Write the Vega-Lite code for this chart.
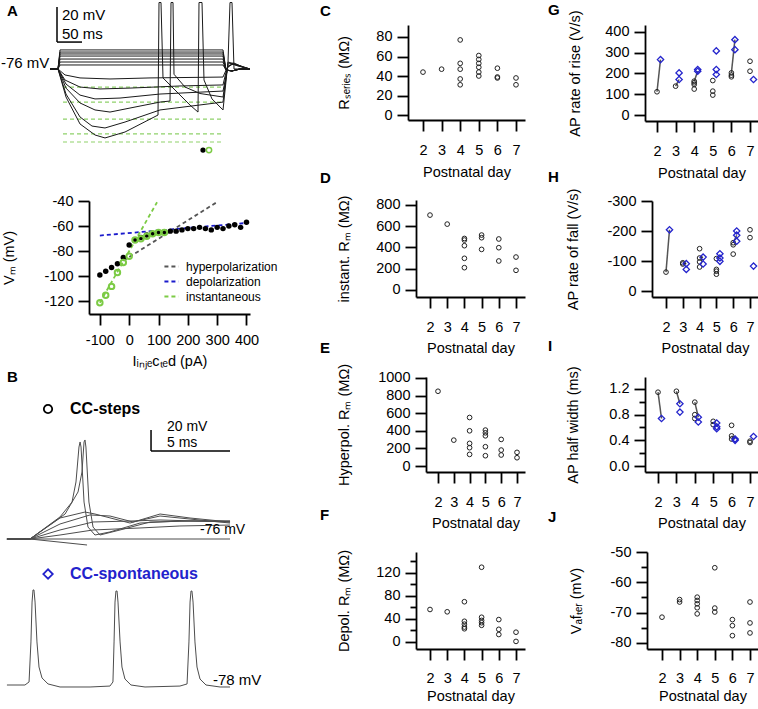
{
  "$schema": "https://vega.github.io/schema/vega-lite/v6.json",
  "padding": 0,
  "columns": 3,
  "align": "none",
  "bounds": "flush",
  "spacing": {"row": 60, "column": 120},
  "resolve": {"scale": {"stroke": "independent"}, "legend": {"stroke": "independent"}},
  "config": {
    "font": "Liberation Sans",
    "view": {"stroke": null},
    "axis": {"domainColor": "#000", "domainWidth": 1.8, "tickColor": "#000", "tickWidth": 1.8, "tickSize": 11, "labelFontSize": 14.5, "titleFontSize": 14.5, "titleFontWeight": "normal", "labelColor": "#000", "titleColor": "#000", "grid": false, "labelFont": "Liberation Sans", "titleFont": "Liberation Sans", "labelOverlap": false},
    "axisX": {"labelPadding": 12, "titlePadding": 6, "labelFlush": false, "labelAngle": 0},
    "axisY": {"labelPadding": 5, "titlePadding": 24},
    "title": {"fontSize": 15, "fontWeight": "bold", "anchor": "start", "frame": "group", "baseline": "alphabetic", "offset": 0, "color": "#000", "font": "Liberation Sans"}
  },
  "datasets": {
    "atr": [
      {"id":"d1","t":0,"v":-76},{"id":"d1","t":16,"v":-76},{"id":"d1","t":20,"v":-65.1},{"id":"d1","t":346,"v":-65.1},{"id":"d1","t":352,"v":-76.6},{"id":"d1","t":364,"v":-77.1},{"id":"d1","t":380,"v":-76},{"id":"d1","t":400,"v":-76},
      {"id":"d2","t":0,"v":-76},{"id":"d2","t":16,"v":-76},{"id":"d2","t":20,"v":-66.3},{"id":"d2","t":346,"v":-66.3},{"id":"d2","t":352,"v":-76.6},{"id":"d2","t":364,"v":-77.1},{"id":"d2","t":380,"v":-76},{"id":"d2","t":400,"v":-76},
      {"id":"d3","t":0,"v":-76},{"id":"d3","t":16,"v":-76},{"id":"d3","t":20,"v":-67.4},{"id":"d3","t":346,"v":-67.4},{"id":"d3","t":352,"v":-76.6},{"id":"d3","t":364,"v":-77.1},{"id":"d3","t":380,"v":-76},{"id":"d3","t":400,"v":-76},
      {"id":"d4","t":0,"v":-76},{"id":"d4","t":16,"v":-76},{"id":"d4","t":20,"v":-68.6},{"id":"d4","t":346,"v":-68.6},{"id":"d4","t":352,"v":-76.6},{"id":"d4","t":364,"v":-77.1},{"id":"d4","t":380,"v":-76},{"id":"d4","t":400,"v":-76},
      {"id":"d5","t":0,"v":-76},{"id":"d5","t":16,"v":-76},{"id":"d5","t":20,"v":-70.3},{"id":"d5","t":346,"v":-70.3},{"id":"d5","t":352,"v":-76.6},{"id":"d5","t":364,"v":-77.1},{"id":"d5","t":380,"v":-76},{"id":"d5","t":400,"v":-76},
      {"id":"d6","t":0,"v":-76},{"id":"d6","t":16,"v":-76},{"id":"d6","t":20,"v":-72},{"id":"d6","t":346,"v":-72},{"id":"d6","t":352,"v":-76.6},{"id":"d6","t":364,"v":-77.1},{"id":"d6","t":380,"v":-76},{"id":"d6","t":400,"v":-76},
      {"id":"d7","t":0,"v":-76},{"id":"d7","t":16,"v":-76},{"id":"d7","t":20,"v":-73.7},{"id":"d7","t":346,"v":-73.7},{"id":"d7","t":352,"v":-76.6},{"id":"d7","t":364,"v":-77.1},{"id":"d7","t":380,"v":-76},{"id":"d7","t":400,"v":-76},
      {"id":"h1","t":0,"v":-76},{"id":"h1","t":16,"v":-76},{"id":"h1","t":30,"v":-79.4},{"id":"h1","t":60,"v":-81.1},{"id":"h1","t":120,"v":-81.7},{"id":"h1","t":200,"v":-81.1},{"id":"h1","t":346,"v":-80.6},{"id":"h1","t":354,"v":-75.4},{"id":"h1","t":364,"v":-73.1},{"id":"h1","t":376,"v":-74.3},{"id":"h1","t":400,"v":-76},
      {"id":"h2","t":0,"v":-76},{"id":"h2","t":16,"v":-76},{"id":"h2","t":30,"v":-82.3},{"id":"h2","t":60,"v":-86.3},{"id":"h2","t":100,"v":-87.4},{"id":"h2","t":160,"v":-86.9},{"id":"h2","t":260,"v":-85.7},{"id":"h2","t":346,"v":-85.1},{"id":"h2","t":354,"v":-75.4},{"id":"h2","t":364,"v":-73.1},{"id":"h2","t":380,"v":-74.3},{"id":"h2","t":400,"v":-76},
      {"id":"h3","t":0,"v":-76},{"id":"h3","t":16,"v":-76},{"id":"h3","t":32,"v":-84.6},{"id":"h3","t":60,"v":-90.9},{"id":"h3","t":90,"v":-93.1},{"id":"h3","t":140,"v":-92.6},{"id":"h3","t":220,"v":-90.3},{"id":"h3","t":346,"v":-88.6},{"id":"h3","t":356,"v":-74.3},{"id":"h3","t":368,"v":-73.1},{"id":"h3","t":390,"v":-75.4},{"id":"h3","t":400,"v":-76},
      {"id":"h4","t":0,"v":-76},{"id":"h4","t":16,"v":-76},{"id":"h4","t":32,"v":-86.9},{"id":"h4","t":60,"v":-95.4},{"id":"h4","t":90,"v":-99.4},{"id":"h4","t":120,"v":-100.6},{"id":"h4","t":160,"v":-98.3},{"id":"h4","t":220,"v":-94.9},{"id":"h4","t":240,"v":-94.3},{"id":"h4","t":242,"v":-38},{"id":"h4","t":246,"v":-38},{"id":"h4","t":248,"v":-79},{"id":"h4","t":270,"v":-86.3},{"id":"h4","t":300,"v":-90},{"id":"h4","t":346,"v":-92},{"id":"h4","t":356,"v":-73.1},{"id":"h4","t":368,"v":-72.6},{"id":"h4","t":390,"v":-75.4},{"id":"h4","t":400,"v":-76},
      {"id":"h5","t":0,"v":-76},{"id":"h5","t":16,"v":-76},{"id":"h5","t":32,"v":-90.3},{"id":"h5","t":60,"v":-103.4},{"id":"h5","t":84,"v":-108.6},{"id":"h5","t":110,"v":-109.7},{"id":"h5","t":150,"v":-106.3},{"id":"h5","t":220,"v":-99.4},{"id":"h5","t":346,"v":-94.9},{"id":"h5","t":356,"v":-72},{"id":"h5","t":360,"v":-38},{"id":"h5","t":364,"v":-38},{"id":"h5","t":368,"v":-76},{"id":"h5","t":400,"v":-76},
      {"id":"h6","t":0,"v":-76},{"id":"h6","t":16,"v":-76},{"id":"h6","t":32,"v":-92},{"id":"h6","t":60,"v":-107.4},{"id":"h6","t":90,"v":-113.7},{"id":"h6","t":110,"v":-115.4},{"id":"h6","t":150,"v":-112},{"id":"h6","t":216,"v":-102.3},{"id":"h6","t":218,"v":-38},{"id":"h6","t":222,"v":-38},{"id":"h6","t":226,"v":-81.1},{"id":"h6","t":250,"v":-88},{"id":"h6","t":280,"v":-96.6},{"id":"h6","t":296,"v":-100.6},{"id":"h6","t":298,"v":-38},{"id":"h6","t":304,"v":-38},{"id":"h6","t":308,"v":-82.3},{"id":"h6","t":324,"v":-93.1},{"id":"h6","t":346,"v":-99.4},{"id":"h6","t":356,"v":-72},{"id":"h6","t":368,"v":-73},{"id":"h6","t":400,"v":-76}
    ],
    "afit": [
      {"id":"g1","t":26,"v":-86.3},{"id":"g1","t":344,"v":-86.3},
      {"id":"g2","t":26,"v":-94.9},{"id":"g2","t":344,"v":-94.9},
      {"id":"g3","t":26,"v":-104.6},{"id":"g3","t":344,"v":-104.6},
      {"id":"g4","t":26,"v":-113.1},{"id":"g4","t":344,"v":-113.1},
      {"id":"g5","t":26,"v":-117.7},{"id":"g5","t":344,"v":-117.7}
    ],
    "abar": [{"t":14,"t2":14,"v":-40.6,"v2":-60.6},{"t":14,"t2":64,"v":-60.6,"v2":-60.6}],
    "alab": [{"t":24,"v":-45.1,"label":"20 mV"},{"t":24,"v":-56,"label":"50 ms"},{"t":-98,"v":-72.6,"label":"-76 mV"}],
    "adot": [{"t":306,"v":-122.3,"kind":"steady"},{"t":318,"v":-122.3,"kind":"instantaneous"}],
    "ivss": [
      {"pA":-100,"mV":-99},{"pA":-80,"mV":-96},{"pA":-60,"mV":-93},{"pA":-40,"mV":-90},{"pA":-20,"mV":-85},{"pA":0,"mV":-75},{"pA":20,"mV":-71},{"pA":40,"mV":-69},{"pA":60,"mV":-67},{"pA":80,"mV":-66},{"pA":100,"mV":-65},{"pA":120,"mV":-65},{"pA":140,"mV":-64},{"pA":160,"mV":-64},{"pA":180,"mV":-63},{"pA":200,"mV":-62},{"pA":220,"mV":-62},{"pA":240,"mV":-61},{"pA":260,"mV":-62},{"pA":280,"mV":-63},{"pA":300,"mV":-61},{"pA":320,"mV":-62},{"pA":340,"mV":-60},{"pA":360,"mV":-59},{"pA":380,"mV":-61},{"pA":400,"mV":-57}
    ],
    "ivin": [
      {"pA":-100,"mV":-121},{"pA":-80,"mV":-115},{"pA":-60,"mV":-108},{"pA":-40,"mV":-97},{"pA":-20,"mV":-89},{"pA":0,"mV":-84},{"pA":20,"mV":-71},{"pA":40,"mV":-70},{"pA":60,"mV":-68},{"pA":80,"mV":-66},{"pA":100,"mV":-65},{"pA":120,"mV":-65}
    ],
    "ivfit": [
      {"fit":"hyperpolarization","pA":-40,"mV":-90.5},{"fit":"hyperpolarization","pA":300,"mV":-40.8},
      {"fit":"depolarization","pA":-100,"mV":-67.5},{"fit":"depolarization","pA":400,"mV":-57.5},
      {"fit":"instantaneous","pA":-100,"mV":-121},{"fit":"instantaneous","pA":95,"mV":-41}
    ],
    "bst": [
      {"id":"base","t":-1.46,"v":-76},{"id":"base","t":12.66,"v":-76},
      {"id":"neg","t":-1.46,"v":-76},{"id":"neg","t":0,"v":-76},{"id":"neg","t":3.61,"v":-81.7},
      {"id":"s1","t":-1.46,"v":-76},{"id":"s1","t":0,"v":-76},{"id":"s1","t":1.9,"v":-72.2},{"id":"s1","t":3.99,"v":-67.4},{"id":"s1","t":6.96,"v":-65.5},{"id":"s1","t":9.49,"v":-63.6},{"id":"s1","t":12.66,"v":-62.7},
      {"id":"s2","t":-1.46,"v":-76},{"id":"s2","t":0,"v":-76},{"id":"s2","t":1.9,"v":-67.4},{"id":"s2","t":3.99,"v":-59.8},{"id":"s2","t":6.33,"v":-58.9},{"id":"s2","t":8.23,"v":-57.9},{"id":"s2","t":12.66,"v":-59.8},
      {"id":"s3","t":-1.46,"v":-76},{"id":"s3","t":0,"v":-76},{"id":"s3","t":1.9,"v":-61.7},{"id":"s3","t":3.8,"v":-53.1},{"id":"s3","t":5.06,"v":-54.1},{"id":"s3","t":6.52,"v":-59.8},{"id":"s3","t":8.23,"v":-54.1},{"id":"s3","t":10.13,"v":-57},{"id":"s3","t":12.66,"v":-60.8},
      {"id":"s4","t":-1.46,"v":-76},{"id":"s4","t":0,"v":-76},{"id":"s4","t":1.9,"v":-56},{"id":"s4","t":3.48,"v":-50.3},{"id":"s4","t":4.11,"v":-52.2},{"id":"s4","t":6.33,"v":-60.8},{"id":"s4","t":8.23,"v":-52.2},{"id":"s4","t":10.13,"v":-56},{"id":"s4","t":12.66,"v":-59.8},
      {"id":"k1","t":-1.46,"v":-76},{"id":"k1","t":0,"v":-76},{"id":"k1","t":1.9,"v":-55},{"id":"k1","t":2.66,"v":-40.8},{"id":"k1","t":2.91,"v":-21.7},{"id":"k1","t":3.1,"v":11.6},{"id":"k1","t":3.17,"v":16.4},{"id":"k1","t":3.23,"v":11.6},{"id":"k1","t":3.42,"v":-40.8},{"id":"k1","t":3.67,"v":-64.6},{"id":"k1","t":4.11,"v":-72.2},{"id":"k1","t":5.06,"v":-69.3},{"id":"k1","t":6.96,"v":-60.8},{"id":"k1","t":9.49,"v":-58.9},{"id":"k1","t":12.66,"v":-58.9},
      {"id":"k2","t":-1.46,"v":-76},{"id":"k2","t":0,"v":-76},{"id":"k2","t":2.22,"v":-52.2},{"id":"k2","t":3.04,"v":-31.2},{"id":"k2","t":3.29,"v":-12.2},{"id":"k2","t":3.42,"v":16.4},{"id":"k2","t":3.48,"v":18.3},{"id":"k2","t":3.54,"v":11.6},{"id":"k2","t":3.73,"v":-40.8},{"id":"k2","t":3.99,"v":-64.6},{"id":"k2","t":4.43,"v":-72.2},{"id":"k2","t":5.7,"v":-67.4},{"id":"k2","t":7.6,"v":-59.8},{"id":"k2","t":10.13,"v":-58.9},{"id":"k2","t":12.66,"v":-58.9}
    ],
    "bbar": [{"t":7.66,"t2":7.66,"v":27.8,"v2":7.8},{"t":7.66,"t2":12.66,"v":7.8,"v2":7.8}],
    "blab": [{"t":8.67,"v":30.2,"label":"20 mV"},{"t":8.67,"v":15.4,"label":"5 ms"},{"t":10.76,"v":-67.4,"label":"-76 mV"}],
    "bkey": [{"t":1.14,"v":47.8,"label":"CC-steps"}],
    "bsp": [
      {"t":-1.46,"v":-78},{"t":-0.32,"v":-78},{"t":-0.06,"v":-75.1},{"t":0.06,"v":-37},{"t":0.13,"v":1},{"t":0.19,"v":12.5},{"t":0.25,"v":12.5},{"t":0.32,"v":1},{"t":0.44,"v":-37},{"t":0.57,"v":-60.9},{"t":0.76,"v":-71.3},{"t":1.14,"v":-77},{"t":1.9,"v":-79.9},{"t":3.8,"v":-79.9},{"t":5.06,"v":-79},{"t":5.25,"v":-75.1},{"t":5.32,"v":-37},{"t":5.38,"v":1},{"t":5.44,"v":11.5},{"t":5.51,"v":11.5},{"t":5.57,"v":1},{"t":5.7,"v":-37},{"t":5.82,"v":-60.9},{"t":6.01,"v":-72.3},{"t":6.39,"v":-78},{"t":7.28,"v":-79.9},{"t":9.49,"v":-79},{"t":9.94,"v":-77},{"t":10.06,"v":-37},{"t":10.13,"v":1},{"t":10.19,"v":11.5},{"t":10.25,"v":11.5},{"t":10.32,"v":1},{"t":10.44,"v":-37},{"t":10.57,"v":-60.9},{"t":10.76,"v":-72.3},{"t":11.14,"v":-78},{"t":12.03,"v":-79.9},{"t":12.66,"v":-79.9}
    ],
    "bsplab": [{"t":11.58,"v":-73.2,"label":"-78 mV"}],
    "bspkey": [{"t":1.14,"v":27.7,"label":"CC-spontaneous"}],
    "rseries": [{"day":2,"v":44},{"day":3,"v":47},{"day":4,"v":77},{"day":4,"v":53},{"day":4,"v":47},{"day":4,"v":37},{"day":4,"v":31},{"day":5,"v":61},{"day":5,"v":57},{"day":5,"v":53},{"day":5,"v":49},{"day":5,"v":44},{"day":5,"v":40},{"day":6,"v":48},{"day":6,"v":39},{"day":6,"v":38},{"day":7,"v":38},{"day":7,"v":31}],
    "instrm": [{"day":2,"v":705},{"day":3,"v":620},{"day":4,"v":485},{"day":4,"v":470},{"day":4,"v":417},{"day":4,"v":298},{"day":4,"v":210},{"day":5,"v":517},{"day":5,"v":492},{"day":5,"v":382},{"day":6,"v":480},{"day":6,"v":398},{"day":6,"v":273},{"day":7,"v":310},{"day":7,"v":185}],
    "hyprm": [{"day":2,"v":849},{"day":3,"v":294},{"day":4,"v":551},{"day":4,"v":400},{"day":4,"v":257},{"day":4,"v":208},{"day":4,"v":132},{"day":5,"v":408},{"day":5,"v":377},{"day":5,"v":343},{"day":5,"v":219},{"day":5,"v":117},{"day":6,"v":302},{"day":6,"v":181},{"day":6,"v":125},{"day":7,"v":155},{"day":7,"v":94}],
    "deprm": [{"day":2,"v":56.5},{"day":3,"v":52.5},{"day":4,"v":70},{"day":4,"v":36},{"day":4,"v":31},{"day":4,"v":26},{"day":4,"v":23},{"day":5,"v":130},{"day":5,"v":43},{"day":5,"v":37.5},{"day":5,"v":33.5},{"day":5,"v":29},{"day":6,"v":39},{"day":6,"v":22},{"day":6,"v":13},{"day":7,"v":17},{"day":7,"v":1}],
    "rise": [{"day":2,"steps":112,"spont":267},{"day":3,"steps":139,"spont":171},{"day":3,"steps":null,"spont":203},{"day":4,"steps":163,"spont":211},{"day":4,"steps":null,"spont":219},{"day":4,"steps":155,"spont":null},{"day":4,"steps":147,"spont":null},{"day":4,"steps":125,"spont":null},{"day":5,"steps":166,"spont":null},{"day":5,"steps":115,"spont":null},{"day":5,"steps":96,"spont":null},{"day":5,"steps":null,"spont":309},{"day":5,"steps":null,"spont":219},{"day":5,"steps":null,"spont":195},{"day":6,"steps":203,"spont":363},{"day":6,"steps":null,"spont":315},{"day":6,"steps":192,"spont":null},{"day":6,"steps":184,"spont":null},{"day":7,"steps":259,"spont":null},{"day":7,"steps":211,"spont":null},{"day":7,"steps":null,"spont":171}],
    "fall": [{"day":2,"steps":-63,"spont":-204},{"day":3,"steps":-94,"spont":-91},{"day":3,"steps":-90,"spont":null},{"day":3,"steps":null,"spont":-72},{"day":4,"steps":-110,"spont":-113},{"day":4,"steps":-141,"spont":null},{"day":4,"steps":-97,"spont":null},{"day":4,"steps":-80,"spont":null},{"day":4,"steps":null,"spont":-90},{"day":5,"steps":-108,"spont":null},{"day":5,"steps":-72,"spont":null},{"day":5,"steps":-66,"spont":null},{"day":5,"steps":-56,"spont":null},{"day":5,"steps":null,"spont":-124},{"day":5,"steps":null,"spont":-110},{"day":5,"steps":null,"spont":-99},{"day":6,"steps":-161,"spont":-186},{"day":6,"steps":-154,"spont":null},{"day":6,"steps":-123,"spont":null},{"day":6,"steps":null,"spont":-200},{"day":6,"steps":null,"spont":-166},{"day":7,"steps":-204,"spont":null},{"day":7,"steps":-178,"spont":null},{"day":7,"steps":null,"spont":-83}],
    "hw": [{"day":2,"steps":1.15,"spont":0.74},{"day":3,"steps":1.165,"spont":0.97},{"day":3,"steps":null,"spont":0.84},{"day":4,"steps":0.995,"spont":0.76},{"day":4,"steps":0.8,"spont":null},{"day":4,"steps":0.74,"spont":null},{"day":4,"steps":null,"spont":0.686},{"day":5,"steps":0.696,"spont":null},{"day":5,"steps":0.644,"spont":null},{"day":5,"steps":null,"spont":0.67},{"day":5,"steps":null,"spont":0.61},{"day":5,"steps":null,"spont":0.58},{"day":6,"steps":0.634,"spont":null},{"day":6,"steps":0.469,"spont":0.42},{"day":6,"steps":0.42,"spont":null},{"day":6,"steps":null,"spont":0.4},{"day":7,"steps":0.387,"spont":null},{"day":7,"steps":0.366,"spont":null},{"day":7,"steps":null,"spont":0.46}],
    "vafter": [{"day":2,"v":-71.5},{"day":3,"v":-65.7},{"day":3,"v":-66.5},{"day":4,"v":-64.9},{"day":4,"v":-66},{"day":4,"v":-67.1},{"day":4,"v":-68.4},{"day":4,"v":-70.4},{"day":5,"v":-55.2},{"day":5,"v":-68.5},{"day":5,"v":-69.8},{"day":6,"v":-72.3},{"day":6,"v":-74.3},{"day":6,"v":-77.6},{"day":7,"v":-66.5},{"day":7,"v":-73.4},{"day":7,"v":-76.7}]
  },
  "concat": [
    {
      "width": 288, "height": 119,
      "title": {"text": "A", "dx": 7, "dy": 22},
      "encoding": {
        "x": {"field": "t", "type": "quantitative", "scale": {"domain": [-100, 476], "nice": false, "zero": false}, "axis": null},
        "y": {"field": "v", "type": "quantitative", "scale": {"domain": [-105.71, -37.71], "nice": false, "zero": false}, "axis": null}
      },
      "layer": [
        {"data": {"name": "afit"}, "mark": {"type": "line", "stroke": "#8fd16a", "strokeWidth": 1.2, "strokeDash": [4, 3]}, "encoding": {"detail": {"field": "id"}}},
        {"data": {"name": "atr"}, "mark": {"type": "line", "stroke": "#1a1a1a", "strokeWidth": 1}, "encoding": {"detail": {"field": "id"}}},
        {"data": {"name": "abar"}, "mark": {"type": "rule", "stroke": "#000", "strokeWidth": 1.5}, "encoding": {"x2": {"field": "t2"}, "y2": {"field": "v2"}}},
        {"data": {"name": "alab"}, "mark": {"type": "text", "align": "left", "baseline": "middle", "fontSize": 15, "color": "#000"}, "encoding": {"text": {"field": "label"}}},
        {"data": {"name": "adot"}, "transform": [{"filter": "datum.kind == 'steady'"}], "mark": {"type": "point", "shape": "circle", "filled": true, "color": "#000", "size": 28, "opacity": 1}},
        {"data": {"name": "adot"}, "transform": [{"filter": "datum.kind == 'instantaneous'"}], "mark": {"type": "point", "shape": "circle", "filled": false, "stroke": "#7ccb45", "strokeWidth": 1.5, "size": 28, "opacity": 1}}
      ]
    },
    {
      "width": 117, "height": 118,
      "title": {"text": "C", "dx": -88, "dy": 21},
      "data": {"name": "rseries"},
      "mark": {"type": "point", "shape": "circle", "filled": false, "stroke": "#222", "strokeWidth": 1, "size": 22, "opacity": 1},
      "encoding": {
        "x": {"field": "day", "type": "quantitative", "scale": {"domain": [1.194, 7.484], "range": [0, 117], "nice": false, "zero": false}, "axis": {"values": [2, 3, 4, 5, 6, 7], "title": "Postnatal day", "titlePadding": 9}},
        "y": {"field": "v", "type": "quantitative", "scale": {"domain": [-5.1, 92.3], "range": [118, 23], "nice": false, "zero": false}, "axis": {"values": [0, 20, 40, 60, 80], "title": "Rₛₑᵣᵢₑₛ (MΩ)", "titlePadding": 24}}
      }
    },
    {
      "width": 113, "height": 119,
      "title": {"text": "G", "dx": -97, "dy": 20},
      "data": {"name": "rise"},
      "encoding": {
        "x": {"field": "day", "type": "quantitative", "scale": {"domain": [1.355, 7.43], "range": [0, 113], "nice": false, "zero": false}, "axis": {"values": [2, 3, 4, 5, 6, 7], "title": "Postnatal day", "titlePadding": 9}}
      },
      "layer": [
        {"transform": [{"filter": "isValid(datum.steps) && isValid(datum.spont)"}], "mark": {"type": "rule", "stroke": "#555", "strokeWidth": 1.5, "x2Offset": 3.5},
         "encoding": {"x2": {"field": "day"}, "y": {"field": "steps", "type": "quantitative", "scale": {"domain": [-28.9, 433.7], "range": [119, 23], "nice": false, "zero": false}, "axis": {"values": [0, 100, 200, 300, 400], "title": "AP rate of rise (V/s)", "titlePadding": 22}}, "y2": {"field": "spont"}}},
        {"transform": [{"filter": "isValid(datum.steps)"}], "mark": {"type": "point", "shape": "circle", "filled": false, "stroke": "#222", "strokeWidth": 1, "size": 22, "opacity": 1},
         "encoding": {"y": {"field": "steps", "type": "quantitative", "scale": {"domain": [-28.9, 433.7], "range": [119, 23], "nice": false, "zero": false}, "axis": {"values": [0, 100, 200, 300, 400], "title": "AP rate of rise (V/s)", "titlePadding": 22}}}},
        {"transform": [{"filter": "isValid(datum.spont)"}], "mark": {"type": "point", "shape": "diamond", "filled": false, "stroke": "#2424cc", "strokeWidth": 1.3, "size": 40, "opacity": 1, "xOffset": 3.5},
         "encoding": {"y": {"field": "spont", "type": "quantitative", "scale": {"domain": [-28.9, 433.7], "range": [119, 23], "nice": false, "zero": false}, "axis": {"values": [0, 100, 200, 300, 400], "title": "AP rate of rise (V/s)", "titlePadding": 22}}}}
      ]
    },
    {
      "width": 288, "height": 133,
      "encoding": {
        "x": {"field": "pA", "type": "quantitative", "scale": {"domain": [-137, 412], "range": [89, 250], "nice": false, "zero": false}, "axis": {"values": [-100, 0, 100, 200, 300, 400], "labelExpr": "'' + datum.value", "title": "Iᵢₙⱼₑcₜₑd (pA)", "labelPadding": 8, "titlePadding": 8}},
        "y": {"field": "mV", "type": "quantitative", "scale": {"domain": [-130, -40], "range": [133, 20], "nice": false, "zero": false}, "axis": {"values": [-120, -100, -80, -60, -40], "labelExpr": "'' + datum.value", "title": "Vₘ (mV)", "offset": -89, "titlePadding": 27}}
      },
      "layer": [
        {"data": {"name": "ivfit"}, "mark": {"type": "line", "strokeWidth": 1.8, "strokeDash": [4, 3]},
         "encoding": {"stroke": {"field": "fit", "type": "nominal", "scale": {"domain": ["hyperpolarization", "depolarization", "instantaneous"], "range": ["#555555", "#1a1acc", "#7ccb45"]},
           "legend": {"title": null, "orient": "none", "legendX": 163, "legendY": 77, "symbolType": "stroke", "symbolStrokeWidth": 2, "symbolDash": [4, 3], "symbolSize": 200, "labelFontSize": 12, "labelColor": "#000", "rowPadding": 0, "labelOffset": 6}}}},
        {"data": {"name": "ivss"}, "mark": {"type": "point", "shape": "circle", "filled": true, "color": "#000", "size": 30, "opacity": 1}},
        {"data": {"name": "ivin"}, "mark": {"type": "point", "shape": "circle", "filled": false, "stroke": "#7ccb45", "strokeWidth": 2, "size": 30, "opacity": 1}}
      ]
    },
    {
      "width": 117, "height": 116,
      "title": {"text": "D", "dx": -88, "dy": 9},
      "data": {"name": "instrm"},
      "mark": {"type": "point", "shape": "circle", "filled": false, "stroke": "#222", "strokeWidth": 1, "size": 22, "opacity": 1},
      "encoding": {
        "x": {"field": "day", "type": "quantitative", "scale": {"domain": [1.186, 7.523], "range": [8, 117], "nice": false, "zero": false}, "axis": {"values": [2, 3, 4, 5, 6, 7], "title": "Postnatal day", "titlePadding": 8}},
        "y": {"field": "v", "type": "quantitative", "scale": {"domain": [-66, 847], "range": [116, 19], "nice": false, "zero": false}, "axis": {"values": [0, 200, 400, 600, 800], "title": "instant. Rₘ (MΩ)", "offset": -8, "titlePadding": 24}}
      }
    },
    {
      "width": 113, "height": 116,
      "title": {"text": "H", "dx": -97, "dy": 8},
      "data": {"name": "fall"},
      "encoding": {
        "x": {"field": "day", "type": "quantitative", "scale": {"domain": [1.167, 7.476], "range": [7, 113], "nice": false, "zero": false}, "axis": {"values": [2, 3, 4, 5, 6, 7], "title": "Postnatal day", "titlePadding": 8}}
      },
      "layer": [
        {"transform": [{"filter": "isValid(datum.steps) && isValid(datum.spont)"}], "mark": {"type": "rule", "stroke": "#555", "strokeWidth": 1.5, "x2Offset": 3.5},
         "encoding": {"x2": {"field": "day"}, "y": {"field": "steps", "type": "quantitative", "scale": {"domain": [-300, 20], "range": [20, 116], "nice": false, "zero": false}, "axis": {"values": [-300, -200, -100, 0], "labelExpr": "'' + datum.value", "title": "AP rate of fall (V/s)", "offset": -7, "titlePadding": 26}}, "y2": {"field": "spont"}}},
        {"transform": [{"filter": "isValid(datum.steps)"}], "mark": {"type": "point", "shape": "circle", "filled": false, "stroke": "#222", "strokeWidth": 1, "size": 22, "opacity": 1},
         "encoding": {"y": {"field": "steps", "type": "quantitative", "scale": {"domain": [-300, 20], "range": [20, 116], "nice": false, "zero": false}, "axis": {"values": [-300, -200, -100, 0], "labelExpr": "'' + datum.value", "title": "AP rate of fall (V/s)", "offset": -7, "titlePadding": 26}}}},
        {"transform": [{"filter": "isValid(datum.spont)"}], "mark": {"type": "point", "shape": "diamond", "filled": false, "stroke": "#2424cc", "strokeWidth": 1.3, "size": 40, "opacity": 1, "xOffset": 3.5},
         "encoding": {"y": {"field": "spont", "type": "quantitative", "scale": {"domain": [-300, 20], "range": [20, 116], "nice": false, "zero": false}, "axis": {"values": [-300, -200, -100, 0], "labelExpr": "'' + datum.value", "title": "AP rate of fall (V/s)", "offset": -7, "titlePadding": 26}}}}
      ]
    },
    {
      "width": 288, "height": 98,
      "title": {"text": "B", "dx": 7, "dy": 15},
      "encoding": {
        "x": {"field": "t", "type": "quantitative", "scale": {"domain": [-1.899, 16.329], "nice": false, "zero": false}, "axis": null},
        "y": {"field": "v", "type": "quantitative", "scale": {"domain": [-12.19, 81.14], "nice": false, "zero": false}, "axis": null}
      },
      "layer": [
        {"data": {"name": "bst"}, "mark": {"type": "line", "stroke": "#4d4d4d", "strokeWidth": 1}, "encoding": {"detail": {"field": "id"}}},
        {"data": {"name": "bbar"}, "mark": {"type": "rule", "stroke": "#000", "strokeWidth": 1.5}, "encoding": {"x2": {"field": "t2"}, "y2": {"field": "v2"}}},
        {"data": {"name": "blab"}, "mark": {"type": "text", "align": "left", "baseline": "middle", "fontSize": 14, "color": "#000"}, "encoding": {"text": {"field": "label"}}},
        {"data": {"name": "bkey"}, "mark": {"type": "point", "shape": "circle", "filled": false, "stroke": "#000", "strokeWidth": 1.8, "size": 70, "opacity": 1}},
        {"data": {"name": "bkey"}, "mark": {"type": "text", "align": "left", "baseline": "middle", "fontSize": 16, "fontWeight": "bold", "color": "#000", "dx": 22}, "encoding": {"text": {"field": "label"}}}
      ]
    },
    {
      "width": 117, "height": 98,
      "title": {"text": "E", "dx": -88, "dy": -3},
      "data": {"name": "hyprm"},
      "mark": {"type": "point", "shape": "circle", "filled": false, "stroke": "#222", "strokeWidth": 1, "size": 22, "opacity": 1},
      "encoding": {
        "x": {"field": "day", "type": "quantitative", "scale": {"domain": [1.241, 7.506], "range": [18, 117], "nice": false, "zero": false}, "axis": {"values": [2, 3, 4, 5, 6, 7], "title": "Postnatal day", "titlePadding": 8}},
        "y": {"field": "v", "type": "quantitative", "scale": {"domain": [-68, 1011], "range": [98, 3], "nice": false, "zero": false}, "axis": {"values": [0, 200, 400, 600, 800, 1000], "labelExpr": "'' + datum.value", "title": "Hyperpol. Rₘ (MΩ)", "offset": -18, "titlePadding": 26}}
      }
    },
    {
      "width": 113, "height": 98,
      "title": {"text": "I", "dx": -97, "dy": -8},
      "data": {"name": "hw"},
      "encoding": {
        "x": {"field": "day", "type": "quantitative", "scale": {"domain": [1.293, 7.435], "range": [0, 113], "nice": false, "zero": false}, "axis": {"values": [2, 3, 4, 5, 6, 7], "title": "Postnatal day", "titlePadding": 8}}
      },
      "layer": [
        {"transform": [{"filter": "isValid(datum.steps) && isValid(datum.spont)"}], "mark": {"type": "rule", "stroke": "#555", "strokeWidth": 1.5, "x2Offset": 3.5},
         "encoding": {"x2": {"field": "day"}, "y": {"field": "steps", "type": "quantitative", "scale": {"domain": [-0.0935, 1.387], "range": [98, 3], "nice": false, "zero": false}, "axis": {"values": [0, 0.2, 0.4, 0.6, 0.8, 1.0, 1.2], "labelExpr": "round(datum.value * 10) % 4 == 0 ? format(datum.value, '.1f') : ''", "tickSize": {"condition": {"test": "round(datum.value * 10) % 4 == 0", "value": 11}, "value": 6}, "title": "AP half width (ms)", "titlePadding": 28}}, "y2": {"field": "spont"}}},
        {"transform": [{"filter": "isValid(datum.steps)"}], "mark": {"type": "point", "shape": "circle", "filled": false, "stroke": "#222", "strokeWidth": 1, "size": 22, "opacity": 1},
         "encoding": {"y": {"field": "steps", "type": "quantitative", "scale": {"domain": [-0.0935, 1.387], "range": [98, 3], "nice": false, "zero": false}, "axis": {"values": [0, 0.2, 0.4, 0.6, 0.8, 1.0, 1.2], "labelExpr": "round(datum.value * 10) % 4 == 0 ? format(datum.value, '.1f') : ''", "tickSize": {"condition": {"test": "round(datum.value * 10) % 4 == 0", "value": 11}, "value": 6}, "title": "AP half width (ms)", "titlePadding": 28}}}},
        {"transform": [{"filter": "isValid(datum.spont)"}], "mark": {"type": "point", "shape": "diamond", "filled": false, "stroke": "#2424cc", "strokeWidth": 1.3, "size": 40, "opacity": 1, "xOffset": 3.5},
         "encoding": {"y": {"field": "spont", "type": "quantitative", "scale": {"domain": [-0.0935, 1.387], "range": [98, 3], "nice": false, "zero": false}, "axis": {"values": [0, 0.2, 0.4, 0.6, 0.8, 1.0, 1.2], "labelExpr": "round(datum.value * 10) % 4 == 0 ? format(datum.value, '.1f') : ''", "tickSize": {"condition": {"test": "round(datum.value * 10) % 4 == 0", "value": 11}, "value": 6}, "title": "AP half width (ms)", "titlePadding": 28}}}}
      ]
    },
    {
      "width": 288, "height": 179,
      "encoding": {
        "x": {"field": "t", "type": "quantitative", "scale": {"domain": [-1.899, 16.329], "nice": false, "zero": false}, "axis": null},
        "y": {"field": "v", "type": "quantitative", "scale": {"domain": [-102.76, 67.71], "nice": false, "zero": false}, "axis": null}
      },
      "layer": [
        {"data": {"name": "bsp"}, "mark": {"type": "line", "stroke": "#4d4d4d", "strokeWidth": 1}},
        {"data": {"name": "bsplab"}, "mark": {"type": "text", "align": "left", "baseline": "middle", "fontSize": 15, "color": "#000"}, "encoding": {"text": {"field": "label"}}},
        {"data": {"name": "bspkey"}, "mark": {"type": "point", "shape": "diamond", "filled": false, "stroke": "#2222cc", "strokeWidth": 1.8, "size": 90, "opacity": 1}},
        {"data": {"name": "bspkey"}, "mark": {"type": "text", "align": "left", "baseline": "middle", "fontSize": 16, "fontWeight": "bold", "color": "#2222cc", "dx": 22}, "encoding": {"text": {"field": "label"}}}
      ]
    },
    {
      "width": 117, "height": 117,
      "title": {"text": "F", "dx": -88, "dy": -5},
      "data": {"name": "deprm"},
      "mark": {"type": "point", "shape": "circle", "filled": false, "stroke": "#222", "strokeWidth": 1, "size": 22, "opacity": 1},
      "encoding": {
        "x": {"field": "day", "type": "quantitative", "scale": {"domain": [1.186, 7.523], "range": [8, 117], "nice": false, "zero": false}, "axis": {"values": [2, 3, 4, 5, 6, 7], "title": "Postnatal day", "labelPadding": 11, "titlePadding": 5}},
        "y": {"field": "v", "type": "quantitative", "scale": {"domain": [-12.2, 156.5], "range": [117, 20], "nice": false, "zero": false}, "axis": {"values": [0, 20, 40, 60, 80, 100, 120, 140], "labelExpr": "datum.value % 40 == 0 ? '' + datum.value : ''", "tickSize": {"condition": {"test": "datum.value % 40 == 0", "value": 11}, "value": 6}, "title": "Depol. Rₘ (MΩ)", "offset": -8, "titlePadding": 24}}
      }
    },
    {
      "width": 113, "height": 117,
      "title": {"text": "J", "dx": -97, "dy": -3},
      "data": {"name": "vafter"},
      "mark": {"type": "point", "shape": "circle", "filled": false, "stroke": "#222", "strokeWidth": 1, "size": 22, "opacity": 1},
      "encoding": {
        "x": {"field": "day", "type": "quantitative", "scale": {"domain": [1.148, 7.455], "range": [2, 113], "nice": false, "zero": false}, "axis": {"values": [2, 3, 4, 5, 6, 7], "title": "Postnatal day", "labelPadding": 11, "titlePadding": 5}},
        "y": {"field": "v", "type": "quantitative", "scale": {"domain": [-82, -50], "range": [117, 20], "nice": false, "zero": false}, "axis": {"values": [-80, -75, -70, -65, -60, -55, -50], "labelExpr": "datum.value % 10 == 0 ? '' + datum.value : ''", "tickSize": {"condition": {"test": "datum.value % 10 == 0", "value": 11}, "value": 6}, "title": "Vₐfₜₑᵣ (mV)", "offset": -2, "titlePadding": 27}}
      }
    }
  ]
}
